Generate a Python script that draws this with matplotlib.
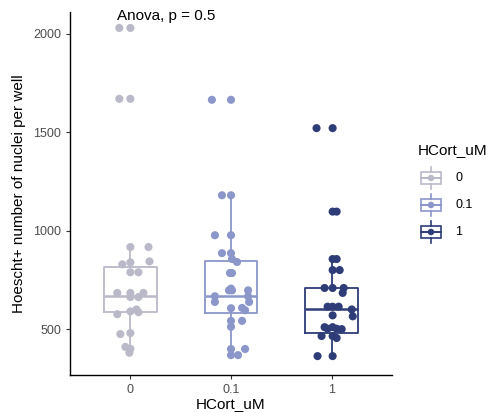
import matplotlib
matplotlib.use("Agg")
from matplotlib import pyplot as plt
from matplotlib.patches import Rectangle

plt.rcParams['font.family'] = ['Liberation Sans', 'DejaVu Sans']

groups = ["0", "0.1", "1"]
colors = ["#b9b9c9", "#8b96cb", "#2e3d78"]

# per-well nuclei counts and the horizontal jitter of each point
counts_0 = [2030, 2030, 1670, 1670, 917, 917, 839, 829, 844, 789, 789,
            684, 684, 684, 663, 663, 600, 590, 586, 576, 475, 480, 410, 400, 380]
jitter_0 = [-0.11, 0.0, -0.11, 0.0, 0.0, 0.18, 0.0, -0.08, 0.19, 0.0, 0.08,
            -0.13, 0.0, 0.13, 0.0, 0.08, 0.06, 0.0, 0.08, -0.13, -0.1, 0.0, -0.05, 0.0, -0.01]

counts_01 = [1665, 1665, 1180, 1180, 977, 977, 886, 886, 856, 841, 785, 785,
             706, 697, 697, 697, 667, 667, 638, 638, 608, 596, 606, 542, 542,
             512, 399, 399, 368, 368]
jitter_01 = [-0.19, 0.0, -0.09, 0.0, -0.16, 0.0, -0.09, 0.0, 0.01, 0.06, -0.01, 0.01,
             0.0, -0.02, 0.01, 0.17, -0.16, 0.17, -0.16, 0.18, 0.11, 0.14, 0.0, 0.0, 0.11,
             0.0, 0.0, 0.14, 0.0, 0.07]

counts_1 = [1521, 1521, 1097, 1097, 856, 856, 800, 800, 709, 709, 709, 684,
            614, 614, 614, 600, 565, 570, 510, 502, 510, 502, 500, 465, 465, 455,
            363, 363]
jitter_1 = [-0.15, 0.01, 0.01, 0.05, 0.01, 0.05, 0.01, 0.08, -0.07, 0.01, 0.12, 0.11,
            -0.04, 0.01, 0.07, 0.2, 0.21, 0.01, -0.07, -0.04, 0.01, 0.05, 0.1, -0.1, 0.01, 0.05,
            -0.14, 0.01]

# box statistics per group
q1 = [586, 581, 481]
medians = [667, 667, 601]
q3 = [814, 846, 709]
whisker_lo = [378, 368, 363]
whisker_hi = [917, 1180, 856]

counts = [counts_0, counts_01, counts_1]
jitters = [jitter_0, jitter_01, jitter_1]

fig = plt.figure(figsize=(4.96, 4.13), dpi=100)
ax = fig.add_axes([70 / 496, 38 / 413, 322 / 496, 363 / 413])

for i, col in enumerate(colors):
    stats = [dict(q1=q1[i], med=medians[i], q3=q3[i],
                  whislo=whisker_lo[i], whishi=whisker_hi[i], fliers=[])]
    ax.bxp(stats, positions=[i], widths=0.52, showcaps=False, patch_artist=False,
           boxprops=dict(color=col, linewidth=1.3),
           medianprops=dict(color=col, linewidth=1.8),
           whiskerprops=dict(color=col, linewidth=1.3),
           manage_ticks=False)
    xs = [i + j for j in jitters[i]]
    ax.scatter(xs, counts[i], s=34, color=col, edgecolors='none', zorder=3)

ax.set_xlim(-0.6, 2.6)
ax.set_ylim(267, 2111)
ax.set_xticks(range(len(groups)))
ax.set_xticklabels(groups)
ax.set_yticks([500, 1000, 1500, 2000])
ax.tick_params(colors='#333333', labelcolor='#4d4d4d', labelsize=9, length=3)
for s in ['top', 'right']:
    ax.spines[s].set_visible(False)
for s in ['left', 'bottom']:
    ax.spines[s].set_linewidth(1.0)
ax.set_xlabel("HCort_uM", fontsize=11, labelpad=1)
ax.set_ylabel("Hoescht+ number of nuclei per well", fontsize=11, labelpad=5)
ax.text(0.36, 2090, "Anova, p = 0.5", ha='center', va='center', fontsize=11)

# legend with small boxplot keys
lg = fig.add_axes([410 / 496, 1 - 245 / 413, 86 / 496, 110 / 413])
lg.set_xlim(0, 86)
lg.set_ylim(110, 0)
lg.axis('off')
lg.text(8, 15, "HCort_uM", fontsize=11, va='center', ha='left')
for k, (lab, col) in enumerate(zip(groups, colors)):
    yc = 43 + 27 * k
    lg.add_patch(Rectangle((11, yc - 6), 20, 12, fill=False, edgecolor=col, linewidth=1.2))
    lg.plot([21, 21], [yc - 11, yc - 6], color=col, linewidth=1.2)
    lg.plot([21, 21], [yc + 6, yc + 11], color=col, linewidth=1.2)
    lg.plot([11, 31], [yc, yc], color=col, linewidth=1.4)
    lg.scatter([21], [yc], s=22, color=col, edgecolors='none', zorder=3)
    lg.text(45, yc, lab, fontsize=9, va='center', ha='left')

fig.savefig("out.png", dpi=100)
